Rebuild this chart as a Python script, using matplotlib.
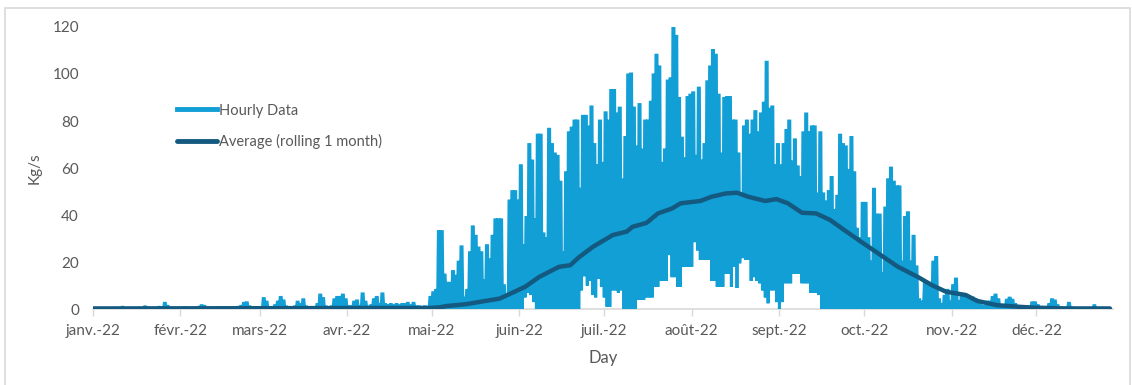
import numpy as np
import matplotlib
matplotlib.use("Agg")
import matplotlib.pyplot as plt
from matplotlib.patches import Rectangle

# Daily peak of the hourly series (Kg/s), one list per month
peak_jan = [0.3, 0.3, 0.3, 0.3, 0.3, 0.3, 0.3, 0.3, 0.3, 0.3, 0.8, 0.3, 0.3, 0.3, 0.3, 0.3,
            0.3, 0.3, 1.0, 0.5, 0.3, 0.3, 0.3, 0.8, 0.5, 2.5, 1.2, 0.3, 0.3, 0.3, 0.3]
peak_feb = [0.3, 0.6, 0.3, 0.3, 0.3, 0.3, 0.8, 1.5, 1.2, 0.3, 0.3, 0.3, 0.3, 0.6, 0.5, 0.6,
            0.3, 0.3, 0.3, 0.3, 0.8, 1.2, 2.5, 2.7, 1.0, 0.3, 0.3, 0.3]
peak_mar = [0.3, 4.5, 3, 0.5, 0.5, 1.5, 3, 5, 3.5, 1, 0.5, 0.5, 1, 3, 2, 4, 1, 0.5, 0.5, 0.5,
            2, 6, 4.5, 1, 0.5, 1, 4, 5, 5, 6, 4]
peak_apr = [1, 1, 3, 3.5, 1, 6.5, 3, 1, 1.5, 4, 5, 2, 6.5, 2, 1.5, 2, 1.5, 2, 1.5, 2,
            2, 2.5, 1.5, 2.5, 1, 1, 0.8, 1, 0.8, 5]
peak_may = [7, 8, 33, 33, 14.5, 11, 11, 16, 14, 20, 26.5, 4.7, 8, 24, 35, 31, 26, 24, 12, 27,
            21, 31, 38, 38, 38, 10, 5, 46, 50, 50, 46]
peak_jun = [61, 27, 39, 70, 63, 38, 74, 74, 32, 30, 76.5, 70, 66, 65, 54, 24, 58, 75, 77, 80,
            80, 51, 82, 82, 77.5, 86, 70, 61, 80, 62]
peak_jul = [83.5, 80, 93, 93, 83, 85.5, 55, 73, 99.6, 100, 85.5, 69, 87, 67.7, 80, 80, 88, 99.6,
            108, 103, 62, 67.7, 97, 98, 120, 116, 89.6, 72.7, 64, 90, 91]
peak_aug = [92, 65, 94, 63, 70, 96.7, 103, 110, 108, 91, 66, 89.6, 90, 90, 80, 80, 66, 48, 77.5,
            80, 74, 80, 84, 75, 83, 87.6, 105, 85, 86, 61, 70]
peak_sep = [61, 70, 76, 80, 62.6, 72, 60.5, 56, 75, 83, 75, 77.5, 77.5, 49, 75, 49, 45.6, 50,
            56, 42, 48, 74, 70, 69, 59, 73, 58, 34, 30, 45]
peak_oct = [45, 30, 20, 51, 40, 40, 15, 43, 55, 60, 54, 52, 52, 20, 39, 41, 20, 31, 18, 4,
            3, 11, 11, 11, 20, 22, 4, 2, 5.5, 8, 3]
peak_nov = [10, 12.8, 3, 5, 5, 4.7, 4.7, 4.7, 4, 2, 1.5, 1, 3, 3, 5, 6, 4, 1, 1.5, 3.8,
            4.7, 3.8, 2, 1, 0.8, 0.8, 1, 1, 2.7, 2.7]
peak_dec = [1.5, 0.5, 0.5, 0.5, 2, 4, 3.5, 1.5, 0.5, 0.5, 0.5, 2.5, 0.5, 0.3, 0.3, 0.3, 0.3,
            0.3, 0.3, 0.3, 1.5, 0.3, 0.3, 0.3, 0.3, 0.3]

# Daily minimum (night) of the hourly series, non-zero only in summer
low_jun = [0, 0, 5, 7, 6, 3, 0, 0, 0, 0, 0, 0, 0, 0, 0, 0, 0, 0, 0, 0, 0, 0,
           8, 14, 10, 12, 6, 5, 13, 9.5]
low_jul = [5, 1, 1, 8, 8, 7, 8, 0, 0, 0, 0, 0, 4, 4, 4, 5, 5, 5, 9.5, 9.5, 12, 12, 12, 23,
           13.6, 13.6, 9.5, 9.5, 18, 18, 18]
low_aug = [18, 28.5, 25, 21, 21, 21, 21, 12, 12, 9.5, 9.5, 9.5, 15, 15, 9.5, 18, 9, 19.5, 21.7,
           21, 21, 12, 13.6, 12, 11, 8, 5, 2.5, 8, 8, 3]
low_sep = [0, 3, 11, 11, 11, 15, 15, 15, 11, 11, 11, 7, 7, 7, 6, 0, 0, 0, 0, 0, 0, 0, 0, 0,
           0, 0, 0, 0, 0, 0]

# Rolling 1-month average (day of year, Kg/s)
avg_days = [0, 60, 101, 119, 123, 125, 132, 137, 144, 148, 153, 158, 165, 169, 172, 177, 184,
            189, 191, 196, 200, 205, 208, 215, 219, 224, 228, 232, 238, 242, 246, 251, 256,
            261, 266, 272, 278, 285, 292, 297, 302, 309, 313, 320, 328, 332, 344, 360]
avg_vals = [0.3, 0.4, 0.5, 0.5, 0.8, 1.3, 2.1, 3.1, 4.5, 6.7, 9.5, 13.7, 18, 18.7, 22, 26.5,
            31.5, 33, 35, 36.7, 40.7, 42.8, 45, 46, 47.8, 49.2, 49.5, 47.8, 46, 46.8, 45, 41,
            40.7, 37.9, 33.6, 28.6, 23.7, 18, 13.7, 10.2, 7.4, 6, 3.5, 1.7, 1, 0.7, 0.3, 0.3]

month_days = [0, 31, 59, 90, 120, 151, 181, 212, 243, 273, 304, 334]
month_labels = ["janv.-22", "févr.-22", "mars-22", "avr.-22", "mai-22", "juin-22",
                "juil.-22", "août-22", "sept.-22", "oct.-22", "nov.-22", "déc.-22"]

LIGHT = "#119FD6"
DARK = "#145A80"
GREY_TXT = "#595959"
GREY_LINE = "#D9D9D9"

plt.rcParams["font.family"] = ["Lato", "DejaVu Sans"]

peaks = np.array(peak_jan + peak_feb + peak_mar + peak_apr + peak_may + peak_jun + peak_jul
                 + peak_aug + peak_sep + peak_oct + peak_nov + peak_dec, dtype=float)
lows = np.zeros_like(peaks)
lows[151:273] = low_jun + low_jul + low_aug + low_sep

# each day: night low, then daytime peak held for a while
days = np.arange(len(peaks))
t = np.column_stack([days, days + 0.3, days + 0.7]).ravel()
v = np.column_stack([lows, peaks, peaks]).ravel()

fig = plt.figure(figsize=(11.32, 3.85), dpi=100)
ax = fig.add_axes([0.082, 0.197, 0.901, 0.733])

ax.plot(t, v, color=LIGHT, lw=2.1, label="Hourly Data", solid_joinstyle="miter")
ax.plot(avg_days, avg_vals, color=DARK, lw=3.2, label="Average (rolling 1 month)",
        solid_capstyle="round")

ax.set_xlim(0, 361)
ax.set_ylim(0, 120)
ax.set_yticks(range(0, 121, 20))
ax.set_xticks(month_days)
ax.set_xticklabels(month_labels)

for s in ["top", "right", "left"]:
    ax.spines[s].set_visible(False)
ax.spines["bottom"].set_color(GREY_LINE)
ax.spines["bottom"].set_linewidth(1.2)
ax.spines["bottom"].set_zorder(0)
ax.tick_params(axis="y", length=0, pad=10, labelsize=11, labelcolor=GREY_TXT)
ax.tick_params(axis="x", length=5, width=1, color=GREY_LINE, pad=6, labelsize=11,
               labelcolor=GREY_TXT)

ax.set_ylabel("Kg/s", color=GREY_TXT, fontsize=11, labelpad=8)
ax.set_xlabel("Day", color=GREY_TXT, fontsize=12, labelpad=8)

leg = ax.legend(loc="upper left", bbox_to_anchor=(0.07, 0.775), frameon=False, fontsize=10.5,
                handlelength=2.7, handletextpad=0.15, labelspacing=1.15)
for txt in leg.get_texts():
    txt.set_color(GREY_TXT)
for h in leg.legend_handles:
    h.set_linewidth(3.5)

# light frame around the whole chart
fig.patches.append(Rectangle((0.0044, -0.01), 0.994, 0.989, transform=fig.transFigure,
                             fill=False, edgecolor=GREY_LINE, lw=1.2))

fig.savefig("out.png", dpi=100)
